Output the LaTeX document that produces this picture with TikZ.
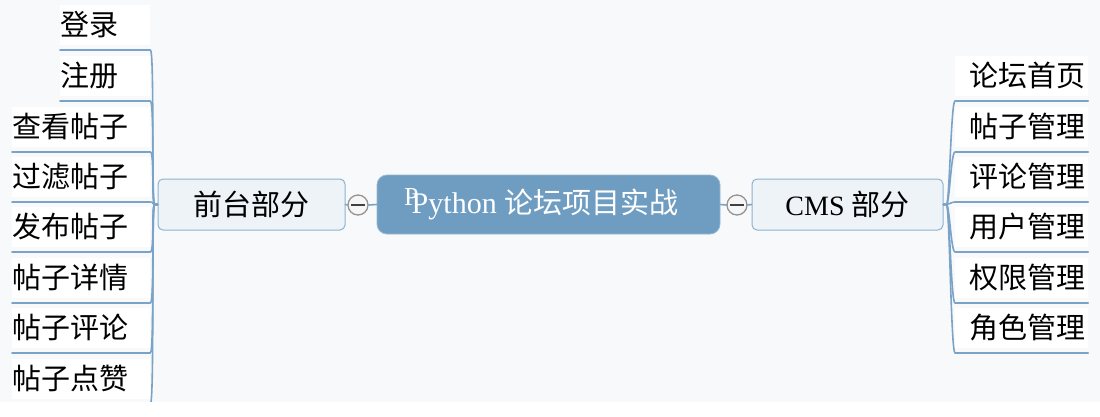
\documentclass[tikz,border=0pt]{standalone}
\usepackage{fontspec}
\setmainfont{Liberation Serif}
\newfontfamily\cjk{Noto Sans CJK SC}
\usetikzlibrary{calc}
\definecolor{bgcol}{RGB}{248,249,250}
\definecolor{conncol}{RGB}{122,163,199}
\definecolor{mainfill}{RGB}{111,157,193}
\definecolor{maindraw}{RGB}{150,184,212}
\definecolor{subfill}{RGB}{238,243,248}
\definecolor{subdraw}{RGB}{140,178,210}
\begin{document}
\begin{tikzpicture}[x=1pt,y=-1pt,
  conn/.style={draw=conncol, line width=1.6pt, line join=round, line cap=round},
  leaf/.style={fill=white, inner xsep=0pt, inner ysep=0pt, minimum height=40pt,
    align=left, anchor=south west, font=\cjk\fontsize{29}{32}\selectfont},
  subbox/.style={draw=subdraw, fill=subfill, line width=1pt, rounded corners=5pt,
    minimum width=#1, minimum height=51pt, inner sep=0pt, font=\fontsize{28}{32}\selectfont},
  mainbox/.style={draw=maindraw, fill=mainfill, line width=0.8pt, rounded corners=10pt,
    minimum width=343pt, minimum height=59pt, inner sep=0pt},
  collapse/.style={circle, draw=gray!85, fill=white!93!gray, line width=1.3pt,
    minimum size=20pt, inner sep=0pt,
    path picture={\draw[gray!50!black, line width=1.8pt]
      ([xshift=-7pt]path picture bounding box.center) --
      ([xshift=7pt]path picture bounding box.center);}},
]
\useasboundingbox (0,0) rectangle (1100,416);
\fill[bgcol] (0,0) rectangle (1100,402);

% central node: box, faint ghost letter, title
\node[mainbox] (M) at (548.5,204.5) {};
\node[anchor=base west, inner sep=0pt, text=white!95!mainfill,
  font=\fontsize{26}{26}\selectfont] (ghostP) at (404,205) {P};
\node[inner sep=0pt, text=white, font=\fontsize{30}{32}\selectfont] (Mtext) at (545,204.5)
  {Python {\cjk\fontsize{29}{32}\selectfont 论坛项目实战}};

% branch nodes
\node[subbox=187pt] (FP) at (251.5,204.5) {\cjk\fontsize{29}{32}\selectfont 前台部分};
\node[subbox=191pt] (CP) at (847.5,204.5) {CMS {\cjk\fontsize{29}{32}\selectfont 部分}};
\node[collapse] (cL) at (358,205) {};
\node[collapse] (cR) at (737,205) {};

\draw[conn] (FP.east) -- (cL.west);
\draw[conn] (cL.east) -- (M.west);
\draw[conn] (M.east) -- (cR.west);
\draw[conn] (cR.east) -- (CP.west);

% left leaves
\foreach \t/\x/\y [count=\i] in {登录/60/50, 注册/60/101, 查看帖子/12/152,
  过滤帖子/12/202, 发布帖子/12/252, 帖子详情/12/303, 帖子评论/12/353, 帖子点赞/12/404} {
  \pgfmathsetmacro\w{150-\x}
  \node[leaf, text width=\w pt] (L\i) at (\x,\y-5) {\t};
  \draw[conn] (FP.west) -- ++(-3,0) .. controls +(-3,0) and +(4,0) ..
    ([yshift=-5pt]L\i.south east) -- ([yshift=-5pt]L\i.south west);
}

% right leaves
\foreach \t/\y [count=\i] in {论坛首页/101, 帖子管理/152, 评论管理/202,
  用户管理/252, 权限管理/303, 角色管理/353} {
  \node[leaf, text width=133pt] (R\i) at (955,\y-5) {\hspace*{14pt}\t};
  \draw[conn] (CP.east) -- ++(3,0) .. controls +(3,0) and +(-4,0) ..
    ([yshift=-5pt]R\i.south west) -- ([yshift=-5pt]R\i.south east);
}

\fill[white] (0,402) rectangle (1100,416);
\end{tikzpicture}
\end{document}
